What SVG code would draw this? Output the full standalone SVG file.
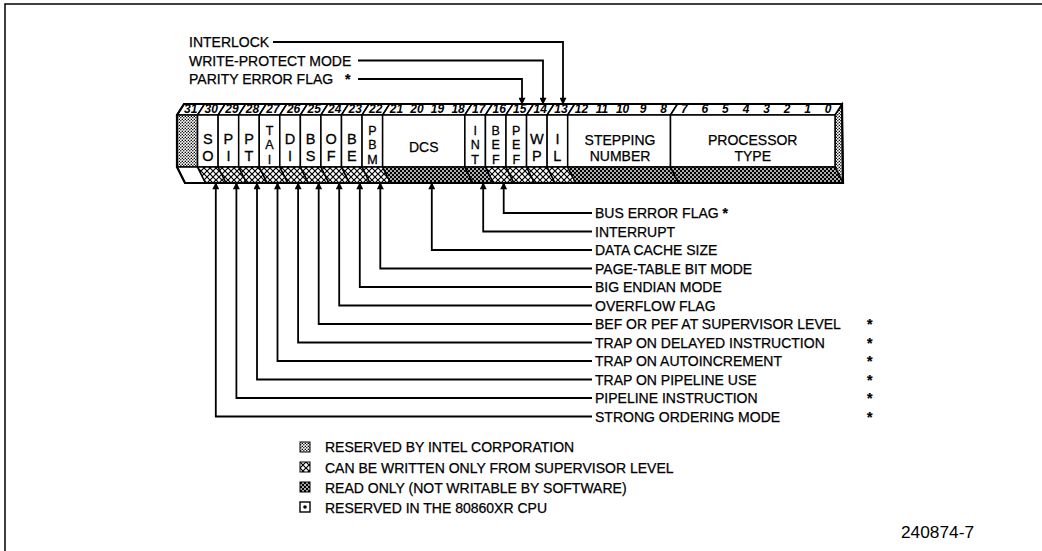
<svg xmlns="http://www.w3.org/2000/svg" width="1042" height="551" viewBox="0 0 1042 551">
<style>
.t{font-family:"Liberation Sans",Arial,sans-serif;font-size:14px;fill:#000;stroke:#000;stroke-width:0.25}
.c{font-family:"Liberation Sans",Arial,sans-serif;font-size:14.5px;fill:#000;text-anchor:middle;stroke:#000;stroke-width:0.3}
.c3{font-family:"Liberation Sans",Arial,sans-serif;font-size:12.5px;fill:#000;text-anchor:middle;stroke:#000;stroke-width:0.3}
.n{font-family:"Liberation Sans",Arial,sans-serif;font-size:12px;font-style:italic;font-weight:bold;fill:#000;text-anchor:middle}
.a{font-weight:bold}
.ln{fill:none;stroke:#000;stroke-width:1.8}
.pc{stroke:#000;stroke-width:1.5;stroke-linejoin:miter}
.w{fill:#fff}
.res{fill:url(#pRes)}
.sup{fill:url(#pSup)}
.ro{fill:url(#pRO)}
</style>
<defs>
<pattern id="pRes" width="3" height="3" patternUnits="userSpaceOnUse"><rect width="3" height="3" fill="#fff"/><circle cx="0.8" cy="0.8" r="0.75" fill="#000"/><circle cx="2.3" cy="2.3" r="0.75" fill="#000"/></pattern>
<pattern id="pSup" width="6" height="6" patternUnits="userSpaceOnUse"><rect width="6" height="6" fill="#fff"/><path d="M-1,-1 L7,7 M7,-1 L-1,7" stroke="#000" stroke-width="1.2"/></pattern>
<pattern id="pRO" width="4" height="4" patternUnits="userSpaceOnUse"><rect width="4" height="4" fill="#000"/><circle cx="1" cy="1" r="0.9" fill="#fff"/><circle cx="3" cy="3" r="0.9" fill="#fff"/></pattern>
<marker id="ah" viewBox="0 0 10 10" refX="9" refY="5" markerWidth="9" markerHeight="7" markerUnits="userSpaceOnUse" orient="auto"><path d="M0,0 L10,5 L0,10 z" fill="#000"/></marker>
</defs>
<rect width="1042" height="551" fill="#fff"/>
<path id="frame" d="M5,551 V4 H1042" fill="none" stroke="#000" stroke-width="1.5"/>

<g id="register">
 <polygon id="rightface" class="pc res" points="835,115 842,104 843,183 835,167"/>
 <g id="f31">
  <polygon class="pc w" points="177,115 184,104 204.56,104 197.56,115"/>
  <rect class="pc res" x="177" y="115" width="20.56" height="52"/>
  <polygon class="pc w" points="177,167 197.56,167 205.56,183 185,183"/>
  <text class="n" x="190.8" y="113">31</text>
 </g>
 <g id="f30">
  <polygon class="pc w" points="197.56,115 204.56,104 225.13,104 218.13,115"/>
  <rect class="pc w" x="197.56" y="115" width="20.57" height="52"/>
  <polygon class="pc sup" points="197.56,167 218.13,167 226.13,183 205.56,183"/>
  <text class="n" x="211.3" y="113">30</text>
  <text class="c" x="207.84" y="144">S<tspan x="207.84" dy="16.5">O</tspan></text>
 </g>
 <g id="f29">
  <polygon class="pc w" points="218.13,115 225.13,104 245.69,104 238.69,115"/>
  <rect class="pc w" x="218.13" y="115" width="20.56" height="52"/>
  <polygon class="pc sup" points="218.13,167 238.69,167 246.69,183 226.13,183"/>
  <text class="n" x="231.9" y="113">29</text>
  <text class="c" x="228.41" y="144">P<tspan x="228.41" dy="16.5">I</tspan></text>
 </g>
 <g id="f28">
  <polygon class="pc w" points="238.69,115 245.69,104 266.25,104 259.25,115"/>
  <rect class="pc w" x="238.69" y="115" width="20.56" height="52"/>
  <polygon class="pc sup" points="238.69,167 259.25,167 267.25,183 246.69,183"/>
  <text class="n" x="252.5" y="113">28</text>
  <text class="c" x="248.97" y="144">P<tspan x="248.97" dy="16.5">T</tspan></text>
 </g>
 <g id="f27">
  <polygon class="pc w" points="259.25,115 266.25,104 286.81,104 279.81,115"/>
  <rect class="pc w" x="259.25" y="115" width="20.56" height="52"/>
  <polygon class="pc sup" points="259.25,167 279.81,167 287.81,183 267.25,183"/>
  <text class="n" x="273" y="113">27</text>
  <text class="c3" x="269.53" y="134.5">T<tspan x="269.53" dy="14.5">A</tspan><tspan x="269.53" dy="14.5">I</tspan></text>
 </g>
 <g id="f26">
  <polygon class="pc w" points="279.81,115 286.81,104 307.38,104 300.38,115"/>
  <rect class="pc w" x="279.81" y="115" width="20.57" height="52"/>
  <polygon class="pc sup" points="279.81,167 300.38,167 308.38,183 287.81,183"/>
  <text class="n" x="293.6" y="113">26</text>
  <text class="c" x="290.09" y="144">D<tspan x="290.09" dy="16.5">I</tspan></text>
 </g>
 <g id="f25">
  <polygon class="pc w" points="300.38,115 307.38,104 327.94,104 320.94,115"/>
  <rect class="pc w" x="300.38" y="115" width="20.56" height="52"/>
  <polygon class="pc sup" points="300.38,167 320.94,167 328.94,183 308.38,183"/>
  <text class="n" x="314.2" y="113">25</text>
  <text class="c" x="310.66" y="144">B<tspan x="310.66" dy="16.5">S</tspan></text>
 </g>
 <g id="f24">
  <polygon class="pc w" points="320.94,115 327.94,104 348.5,104 341.5,115"/>
  <rect class="pc w" x="320.94" y="115" width="20.56" height="52"/>
  <polygon class="pc sup" points="320.94,167 341.5,167 349.5,183 328.94,183"/>
  <text class="n" x="334.7" y="113">24</text>
  <text class="c" x="331.22" y="144">O<tspan x="331.22" dy="16.5">F</tspan></text>
 </g>
 <g id="f23">
  <polygon class="pc w" points="341.5,115 348.5,104 369.06,104 362.06,115"/>
  <rect class="pc w" x="341.5" y="115" width="20.56" height="52"/>
  <polygon class="pc sup" points="341.5,167 362.06,167 370.06,183 349.5,183"/>
  <text class="n" x="355.3" y="113">23</text>
  <text class="c" x="351.78" y="144">B<tspan x="351.78" dy="16.5">E</tspan></text>
 </g>
 <g id="f22">
  <polygon class="pc w" points="362.06,115 369.06,104 389.63,104 382.63,115"/>
  <rect class="pc w" x="362.06" y="115" width="20.57" height="52"/>
  <polygon class="pc sup" points="362.06,167 382.63,167 390.63,183 370.06,183"/>
  <text class="n" x="375.8" y="113">22</text>
  <text class="c3" x="372.34" y="134.5">P<tspan x="372.34" dy="14.5">B</tspan><tspan x="372.34" dy="14.5">M</tspan></text>
 </g>
 <g id="fDCS">
  <polygon class="pc w" points="382.63,115 389.63,104 471.88,104 464.88,115"/>
  <rect class="pc w" x="382.63" y="115" width="82.25" height="52"/>
  <polygon class="pc ro" points="382.63,167 464.88,167 472.88,183 390.63,183"/>
  <text class="n" x="396.4" y="113">21</text><text class="n" x="417" y="113">20</text><text class="n" x="437.5" y="113">19</text><text class="n" x="458.1" y="113">18</text>
  <text class="t" x="423.75" y="152" text-anchor="middle">DCS</text>
 </g>
 <g id="f17">
  <polygon class="pc w" points="464.88,115 471.88,104 492.44,104 485.44,115"/>
  <rect class="pc w" x="464.88" y="115" width="20.56" height="52"/>
  <polygon class="pc ro" points="464.88,167 485.44,167 493.44,183 472.88,183"/>
  <text class="n" x="478.7" y="113">17</text>
  <text class="c3" x="475.16" y="134.5">I<tspan x="475.16" dy="14.5">N</tspan><tspan x="475.16" dy="14.5">T</tspan></text>
 </g>
 <g id="f16">
  <polygon class="pc w" points="485.44,115 492.44,104 513,104 506,115"/>
  <rect class="pc w" x="485.44" y="115" width="20.56" height="52"/>
  <polygon class="pc sup" points="485.44,167 506,167 514,183 493.44,183"/>
  <text class="n" x="499.2" y="113">16</text>
  <text class="c3" x="495.72" y="134.5">B<tspan x="495.72" dy="14.5">E</tspan><tspan x="495.72" dy="14.5">F</tspan></text>
 </g>
 <g id="f15">
  <polygon class="pc w" points="506,115 513,104 533.56,104 526.56,115"/>
  <rect class="pc w" x="506" y="115" width="20.56" height="52"/>
  <polygon class="pc sup" points="506,167 526.56,167 534.56,183 514,183"/>
  <text class="n" x="519.8" y="113">15</text>
  <text class="c3" x="516.28" y="134.5">P<tspan x="516.28" dy="14.5">E</tspan><tspan x="516.28" dy="14.5">F</tspan></text>
 </g>
 <g id="f14">
  <polygon class="pc w" points="526.56,115 533.56,104 554.13,104 547.13,115"/>
  <rect class="pc w" x="526.56" y="115" width="20.57" height="52"/>
  <polygon class="pc sup" points="526.56,167 547.13,167 555.13,183 534.56,183"/>
  <text class="n" x="540.3" y="113">14</text>
  <text class="c" x="536.84" y="144">W<tspan x="536.84" dy="16.5">P</tspan></text>
 </g>
 <g id="f13">
  <polygon class="pc w" points="547.13,115 554.13,104 574.69,104 567.69,115"/>
  <rect class="pc w" x="547.13" y="115" width="20.56" height="52"/>
  <polygon class="pc sup" points="547.13,167 567.69,167 575.69,183 555.13,183"/>
  <text class="n" x="560.9" y="113">13</text>
  <text class="c" x="557.41" y="144">I<tspan x="557.41" dy="16.5">L</tspan></text>
 </g>
 <g id="fStep">
  <polygon class="pc w" points="567.69,115 574.69,104 677.5,104 670.5,115"/>
  <rect class="pc w" x="567.69" y="115" width="102.81" height="52"/>
  <polygon class="pc ro" points="567.69,167 670.5,167 678.5,183 575.69,183"/>
  <text class="n" x="581.5" y="113">12</text><text class="n" x="602" y="113">11</text><text class="n" x="622.6" y="113">10</text><text class="n" x="643.2" y="113">9</text><text class="n" x="663.7" y="113">8</text>
  <text class="t" x="620" y="145" text-anchor="middle">STEPPING<tspan x="620" dy="16">NUMBER</tspan></text>
 </g>
 <g id="fProc">
  <polygon class="pc w" points="670.5,115 677.5,104 842,104 835,115"/>
  <rect class="pc w" x="670.5" y="115" width="164.5" height="52"/>
  <polygon class="pc ro" points="670.5,167 835,167 843,183 678.5,183"/>
  <text class="n" x="684.3" y="113">7</text><text class="n" x="704.8" y="113">6</text><text class="n" x="725.4" y="113">5</text><text class="n" x="746" y="113">4</text><text class="n" x="766.5" y="113">3</text><text class="n" x="787.1" y="113">2</text><text class="n" x="807.7" y="113">1</text><text class="n" x="828.2" y="113">0</text>
  <text class="t" x="752.75" y="145" text-anchor="middle">PROCESSOR<tspan x="752.75" dy="16">TYPE</tspan></text>
 </g>
 <path d="M177,115 L184,104 L842,104 L843,183 L185,183 L177,167 Z" fill="none" stroke="#000" stroke-width="2.2"/>
</g>

<g id="connectors">
 <path class="ln" marker-end="url(#ah)" d="M273,42 H563 V104"/>
 <path class="ln" marker-end="url(#ah)" d="M358,60.5 H543 V104"/>
 <path class="ln" marker-end="url(#ah)" d="M358,79 H522 V104"/>
 <path class="ln" marker-end="url(#ah)" d="M592,213 H503.7 V183"/>
 <path class="ln" marker-end="url(#ah)" d="M592,231.5 H483.2 V183"/>
 <path class="ln" marker-end="url(#ah)" d="M592,250 H431.8 V183"/>
 <path class="ln" marker-end="url(#ah)" d="M592,268.5 H380.3 V183"/>
 <path class="ln" marker-end="url(#ah)" d="M592,287 H359.8 V183"/>
 <path class="ln" marker-end="url(#ah)" d="M592,305.5 H339.2 V183"/>
 <path class="ln" marker-end="url(#ah)" d="M592,324 H318.7 V183"/>
 <path class="ln" marker-end="url(#ah)" d="M592,342.5 H298.1 V183"/>
 <path class="ln" marker-end="url(#ah)" d="M592,361 H277.5 V183"/>
 <path class="ln" marker-end="url(#ah)" d="M592,379.5 H257 V183"/>
 <path class="ln" marker-end="url(#ah)" d="M592,398 H236.4 V183"/>
 <path class="ln" marker-end="url(#ah)" d="M592,416.5 H215.8 V183"/>
</g>

<g id="lbl-interlock"><text class="t" x="189" y="47">INTERLOCK</text></g>
<g id="lbl-wp"><text class="t" x="189" y="65.5">WRITE-PROTECT MODE</text></g>
<g id="lbl-pef"><text class="t" x="189" y="84">PARITY ERROR FLAG <tspan class="a" dx="8">*</tspan></text></g>

<g id="lbl-bef"><text class="t" x="595" y="218">BUS ERROR FLAG <tspan class="a">*</tspan></text></g>
<g id="lbl-int"><text class="t" x="595" y="236.5">INTERRUPT</text></g>
<g id="lbl-dcs"><text class="t" x="595" y="255">DATA CACHE SIZE</text></g>
<g id="lbl-pbm"><text class="t" x="595" y="273.5">PAGE-TABLE BIT MODE</text></g>
<g id="lbl-be"><text class="t" x="595" y="292">BIG ENDIAN MODE</text></g>
<g id="lbl-of"><text class="t" x="595" y="310.5">OVERFLOW FLAG</text></g>
<g id="lbl-bs"><text class="t" x="595" y="329">BEF OR PEF AT SUPERVISOR LEVEL <tspan class="a" x="867">*</tspan></text></g>
<g id="lbl-di"><text class="t" x="595" y="347.5">TRAP ON DELAYED INSTRUCTION <tspan class="a" x="867">*</tspan></text></g>
<g id="lbl-tai"><text class="t" x="595" y="366">TRAP ON AUTOINCREMENT <tspan class="a" x="867">*</tspan></text></g>
<g id="lbl-pt"><text class="t" x="595" y="384.5">TRAP ON PIPELINE USE <tspan class="a" x="867">*</tspan></text></g>
<g id="lbl-pi"><text class="t" x="595" y="403">PIPELINE INSTRUCTION <tspan class="a" x="867">*</tspan></text></g>
<g id="lbl-so"><text class="t" x="595" y="421.5">STRONG ORDERING MODE <tspan class="a" x="867">*</tspan></text></g>

<g id="legend">
 <g id="leg-res"><rect class="res" x="300" y="442" width="10" height="10" stroke="#000" stroke-width="1"/><text class="t" x="325" y="452">RESERVED BY INTEL CORPORATION</text></g>
 <g id="leg-sup"><rect class="sup" x="300" y="462" width="10" height="10" stroke="#000" stroke-width="1"/><text class="t" x="325" y="472.5">CAN BE WRITTEN ONLY FROM SUPERVISOR LEVEL</text></g>
 <g id="leg-ro"><rect class="ro" x="300" y="482" width="10" height="10" stroke="#000" stroke-width="1"/><text class="t" x="325" y="492.5">READ ONLY (NOT WRITABLE BY SOFTWARE)</text></g>
 <g id="leg-xr"><rect x="300" y="502" width="10" height="10" fill="#fff" stroke="#000" stroke-width="1.4"/><circle cx="305" cy="507" r="1.8" fill="#000"/><text class="t" x="325" y="512.5">RESERVED IN THE 80860XR CPU</text></g>
</g>

<g id="figno"><text x="901" y="538" font-family="Liberation Sans, Arial, sans-serif" font-size="16" textLength="73" lengthAdjust="spacingAndGlyphs">240874-7</text></g>
</svg>
